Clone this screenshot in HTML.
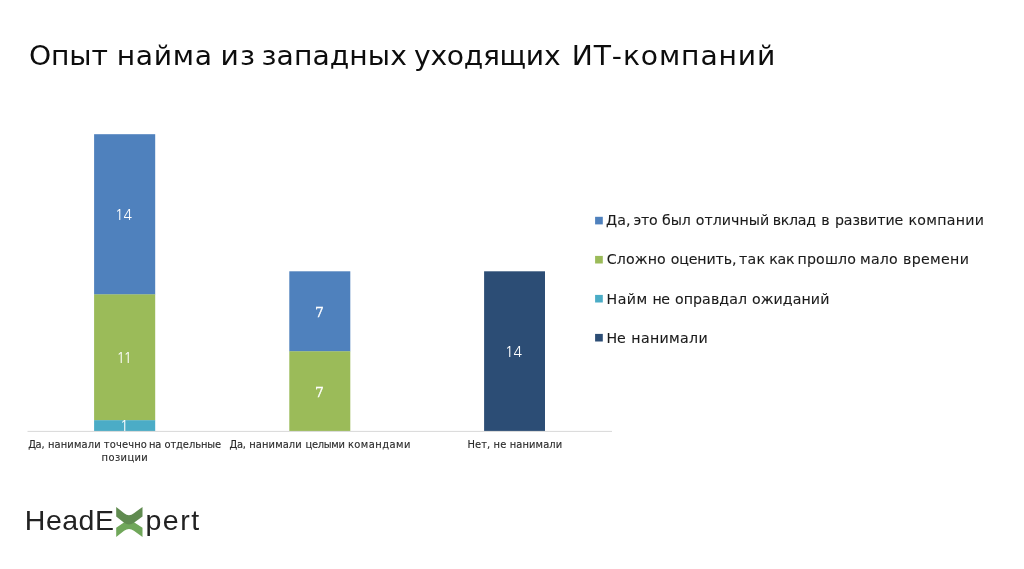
<!DOCTYPE html>
<html lang="ru">
<head>
<meta charset="utf-8">
<title>Опыт найма из западных уходящих ИТ-компаний</title>
<style>
  html, body { margin: 0; padding: 0; background: #ffffff; }
  body { width: 1024px; height: 569px; overflow: hidden; position: relative; }
  svg { position: absolute; left: 0; top: 0; display: block; }
  text { font-family: "Liberation Sans", "DejaVu Sans", sans-serif; white-space: pre; }
  .title { font-family: "DejaVu Sans", "Liberation Sans", sans-serif; font-size: 27.4px; fill: #0d0d0d; }
  .leg { font-family: "DejaVu Sans", "Liberation Sans", sans-serif; font-size: 14.4px; fill: #1a1a1a; stroke: #1a1a1a; stroke-width: 0.1px; }
  .ax { font-family: "DejaVu Sans Condensed", "Liberation Sans", sans-serif; font-size: 11px; fill: #2b2b2b; stroke: #2b2b2b; stroke-width: 0.12px; }
  .dl { font-family: "NanumGothic", "Liberation Sans", sans-serif; font-size: 14.2px; fill: #ffffff; }
  .dls { font-family: "DejaVu Serif", "Liberation Serif", serif; font-size: 13.8px; fill: #ffffff; stroke: #ffffff; stroke-width: 0.3px; }
  .logo { font-size: 28.5px; fill: #222222; }
</style>
</head>
<body>
<svg width="1024" height="569" viewBox="0 0 1024 569">
  <rect x="0" y="0" width="1024" height="569" fill="#ffffff"/>

  <!-- title -->
  <text id="t_title" class="title" transform="scale(1.03,1)" x="28.16" y="65"><tspan x="28.16" style="letter-spacing:-0.17px">Опыт </tspan><tspan x="113.35" style="letter-spacing:0.65px">найма </tspan><tspan x="214.08" style="letter-spacing:1.25px">из </tspan><tspan x="253.88" style="letter-spacing:0.07px">западных </tspan><tspan x="401.94" style="letter-spacing:-0.29px">уходящих </tspan><tspan x="555.1" style="letter-spacing:0.85px">ИТ-компаний</tspan></text>

  <!-- bars -->
  <g>
    <rect x="94.1" y="134.2" width="61.1" height="160.4" fill="#4f81bd"/>
    <rect x="94.1" y="294.4" width="61.1" height="126" fill="#9bbb59"/>
    <rect x="94.1" y="420.2" width="61.1" height="10.9" fill="#4bacc6"/>

    <rect x="289.3" y="271.3" width="61" height="80.2" fill="#4f81bd"/>
    <rect x="289.3" y="351.3" width="61" height="79.8" fill="#9bbb59"/>

    <rect x="484.1" y="271.3" width="60.9" height="159.8" fill="#2c4d75"/>

    <rect x="27.5" y="430.9" width="584.5" height="1" fill="#d9d9d9"/>
  </g>

  <!-- data labels -->
  <text id="d14a" class="dl" x="123.6" y="219.7" text-anchor="middle">14</text>
  <text id="d11" class="dl" x="123.6" y="363" text-anchor="middle" style="letter-spacing:-1.6px">11</text>
  <text id="d1" class="dl" x="124.2" y="431.2" text-anchor="middle">1</text>
  <text id="d7a" class="dls" x="319.5" y="317" text-anchor="middle">7</text>
  <text id="d7b" class="dls" x="319.5" y="397" text-anchor="middle">7</text>
  <text id="d14b" class="dl" x="513.6" y="357.1" text-anchor="middle">14</text>

  <!-- axis labels -->
  <text id="a1" class="ax" x="28.2" y="448"><tspan x="28.2" style="letter-spacing:-0.3px">Да, </tspan><tspan x="47.9" style="letter-spacing:0.14px">нанимали </tspan><tspan x="103.8" style="letter-spacing:0.15px">точечно </tspan><tspan x="148.9" style="letter-spacing:-0.2px">на </tspan><tspan x="164.4" style="letter-spacing:-0.06px">отдельные</tspan></text>
  <text id="a1b" class="ax" x="124.9" y="461" text-anchor="middle" style="letter-spacing:0.4px">позиции</text>
  <text id="a2" class="ax" x="229.4" y="448"><tspan x="229.4" style="letter-spacing:-0.2px">Да, </tspan><tspan x="249.3" style="letter-spacing:0.1px">нанимали </tspan><tspan x="305.5" style="letter-spacing:-0.3px">целыми </tspan><tspan x="347.9" style="letter-spacing:0.45px">командами</tspan></text>
  <text id="a3" class="ax" x="514.9" y="448" text-anchor="middle" style="letter-spacing:0.12px">Нет, не нанимали</text>

  <!-- legend -->
  <rect x="595.1" y="216.8" width="7.7" height="7.6" fill="#4f81bd"/>
  <rect x="595.1" y="255.9" width="7.7" height="7.6" fill="#9bbb59"/>
  <rect x="595.1" y="294.9" width="7.7" height="7.6" fill="#4bacc6"/>
  <rect x="595.1" y="333.9" width="7.7" height="7.6" fill="#2c4d75"/>
  <text id="l1" class="leg" transform="scale(0.985,1)" x="615.12" y="225.3"><tspan x="615.12" style="letter-spacing:0.2px">Да, </tspan><tspan x="643.24" style="letter-spacing:-0.3px">это </tspan><tspan x="672.18" style="letter-spacing:-0.15px">был </tspan><tspan x="706.29" style="letter-spacing:0.04px">отличный </tspan><tspan x="784.56" style="letter-spacing:-0.3px">вклад </tspan><tspan x="833.7" style="letter-spacing:0.0px">в </tspan><tspan x="847.61" style="letter-spacing:-0.09px">развитие </tspan><tspan x="922.33" style="letter-spacing:0.27px">компании</tspan></text>
  <text id="l2" class="leg" transform="scale(0.985,1)" x="616.04" y="264.5"><tspan x="616.04" style="letter-spacing:0.12px">Сложно </tspan><tspan x="680.91" style="letter-spacing:-0.13px">оценить, </tspan><tspan x="750.35" style="letter-spacing:0.2px">так </tspan><tspan x="781.01" style="letter-spacing:-0.3px">как </tspan><tspan x="809.74" style="letter-spacing:0.12px">прошло </tspan><tspan x="873.09" style="letter-spacing:0.2px">мало </tspan><tspan x="916.75" style="letter-spacing:0.32px">времени</tspan></text>
  <text id="l3" class="leg" transform="scale(0.985,1)" x="615.73" y="303.6"><tspan x="615.73" style="letter-spacing:0.5px">Найм </tspan><tspan x="662.33" style="letter-spacing:-0.3px">не </tspan><tspan x="685.27" style="letter-spacing:0.07px">оправдал </tspan><tspan x="763.35" style="letter-spacing:0.09px">ожиданий</tspan></text>
  <text id="l4" class="leg" transform="scale(0.985,1)" x="615.73" y="342.8"><tspan x="615.73" style="letter-spacing:-0.2px">Не </tspan><tspan x="640.91" style="letter-spacing:0.33px">нанимали</tspan></text>

  <!-- logo -->
  <text id="lg1" class="logo" x="24.8" y="529.6" style="letter-spacing:0.5px">HeadE</text>
  <text id="lg2" class="logo" x="145.5" y="529.6" style="letter-spacing:1.5px">pert</text>
  <g id="logoX">
    <path d="M116.2 537 L116.2 527.7 L129 518.9 L142.5 527.7 L142.5 537 L133.9 530.8 Q129 527 124.1 530.8 Z" fill="#70a75a"/>
    <path d="M116.2 506.9 L124.1 513.2 Q129 517.1 133.9 513.2 L142.5 506.9 L142.5 516.4 L133.9 522.7 Q129 526.3 124.1 522.7 L116.2 516.4 Z" fill="#608b50"/>
  </g>
</svg>
</body>
</html>
